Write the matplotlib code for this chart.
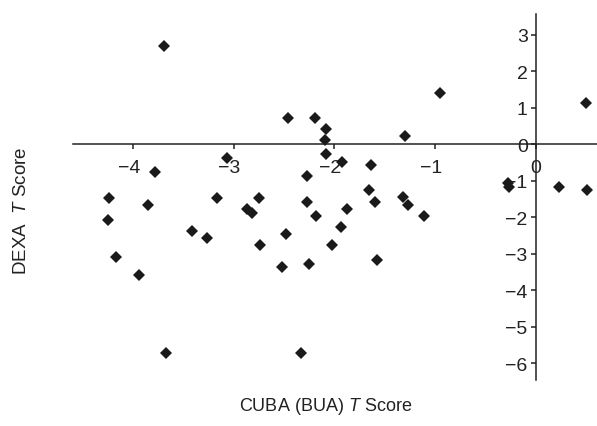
import numpy as np
import matplotlib
matplotlib.use("Agg")
import matplotlib.pyplot as plt
import matplotlib.transforms as mtransforms

plt.rcParams['font.family'] = ['Liberation Sans', 'DejaVu Sans']
plt.rcParams['mathtext.fontset'] = 'custom'
plt.rcParams['mathtext.rm'] = 'Liberation Sans'
plt.rcParams['mathtext.it'] = 'Liberation Sans:italic'

# T scores
cuba_t = [-3.69, -2.46, -2.19, -2.08, -2.09, -3.07, -2.08, -1.92, -3.78, -2.27,
          -0.95, -1.30, 0.50, -1.64, -1.66, -0.27, -0.26, 0.23, 0.51,
          -4.24, -3.85, -4.25, -4.17, -3.94, -3.67, -3.17, -3.41, -3.27,
          -2.75, -2.87, -2.82, -2.74, -2.48, -2.52, -2.27, -2.18, -2.25, -2.33,
          -1.87, -1.93, -2.02, -1.60, -1.58, -1.32, -1.27, -1.11]
dexa_t = [2.68, 0.72, 0.72, 0.43, 0.13, -0.37, -0.27, -0.48, -0.77, -0.87,
          1.41, 0.24, 1.12, -0.57, -1.26, -1.06, -1.16, -1.17, -1.25,
          -1.47, -1.67, -2.07, -3.08, -3.57, -5.73, -1.47, -2.37, -2.58,
          -1.47, -1.77, -1.87, -2.77, -2.47, -3.36, -1.57, -1.97, -3.27, -5.73,
          -1.77, -2.27, -2.77, -1.57, -3.16, -1.45, -1.67, -1.97]

x_ticks = [-4, -3, -2, -1, 0]
y_ticks = [-6, -5, -4, -3, -2, -1, 0, 1, 2, 3]

def lab(t):
    return '\u2212' + str(-t) if t < 0 else str(t)

fig = plt.figure(figsize=(5.97, 4.27), dpi=100)
ax = fig.add_axes([0.1218, 0.1084, 0.878, 0.8565])

ax.plot(cuba_t, dexa_t, 'D', color='#1a1a1a', markersize=6.5, markeredgewidth=0)

ax.set_xlim(-4.6, 0.61)
ax.set_ylim(-6.45, 3.57)

# axes qui se croisent en (0, 0)
ax.spines['left'].set_position(('data', 0))
ax.spines['bottom'].set_position(('data', 0))
ax.spines['top'].set_visible(False)
ax.spines['right'].set_visible(False)
for s in ['left', 'bottom']:
    ax.spines[s].set_linewidth(1.1)
    ax.spines[s].set_color('#222222')

ax.set_xticks(x_ticks)
ax.set_yticks(y_ticks)
ax.set_xticklabels([lab(t) for t in x_ticks])
ax.set_yticklabels([lab(t) for t in y_ticks])
ax.tick_params(direction='out', length=3.6, width=1.1, color='#222222',
               labelsize=14, labelcolor='#222222')
ax.tick_params(axis='x', pad=7)
ax.tick_params(axis='y', pad=2)

# chiffre centré sur la graduation, le signe moins déborde à gauche
shift = mtransforms.ScaledTranslation(-3 / 72, 0, fig.dpi_scale_trans)
for t, tl in zip(x_ticks, ax.get_xticklabels()):
    if t < 0:
        tl.set_transform(tl.get_transform() + shift)

fig.text(0.545, 0.047, r'CUBA (BUA) $\mathit{T}$ Score', ha='center', va='center',
         fontsize=13, color='#222222')
fig.text(0.036, 0.505, r'DEXA  $\mathit{T}$ Score', ha='center', va='center',
         rotation=90, fontsize=13.5, color='#222222')

fig.savefig('out.png', dpi=100)
